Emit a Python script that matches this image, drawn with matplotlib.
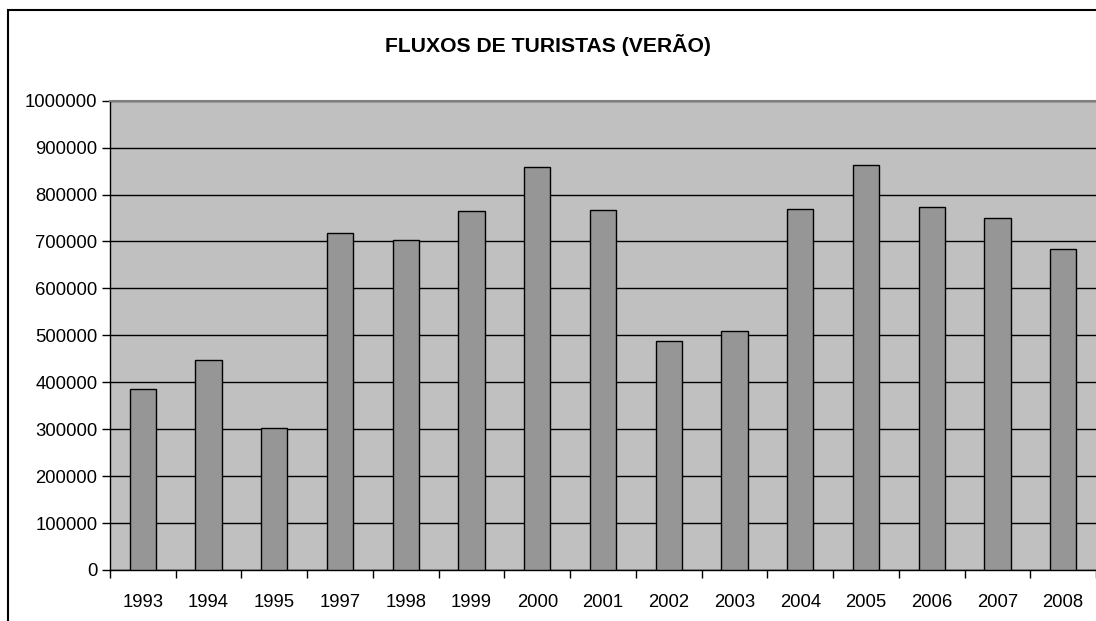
import matplotlib.pyplot as plt
import numpy as np
from matplotlib.patches import Rectangle

# Dados
anos = ['1993', '1994', '1995', '1997', '1998', '1999', '2000', '2001',
        '2002', '2003', '2004', '2005', '2006', '2007', '2008']
turistas = [385000, 448000, 303000, 718000, 704000, 765000, 858000, 767000,
            489000, 510000, 770000, 862000, 773000, 749000, 685000]
y_ticks = [0, 100000, 200000, 300000, 400000, 500000, 600000, 700000,
           800000, 900000, 1000000]

plt.rcParams['font.family'] = ['Liberation Sans', 'DejaVu Sans']

fig = plt.figure(figsize=(10.96, 6.21), dpi=100)
ax = fig.add_axes([110 / 1096, 1 - 570 / 621, 1 - 110 / 1096, (570 - 100.7) / 621])

# Moldura externa do gráfico
fig.patches.append(Rectangle((8 / 1096, -0.1), 1.2, 1 - 10 / 621 + 0.1,
                             transform=fig.transFigure, fill=False,
                             edgecolor='black', linewidth=1.5))

x = np.arange(len(anos))
ax.set_facecolor('#C0C0C0')
ax.bar(x, turistas, width=0.4, color='#969696', edgecolor='black',
       linewidth=1, zorder=3)

ax.set_xlim(-0.5, len(anos) - 0.5)
ax.set_ylim(0, 1000000)
ax.set_yticks(y_ticks)
ax.set_yticklabels([str(v) for v in y_ticks], fontsize=13.3)
ax.yaxis.grid(True, color='black', linewidth=1, zorder=1)
ax.set_axisbelow(True)

# Marcas do eixo x entre as categorias, rótulos no centro
ax.set_xticks(np.arange(len(anos) + 1) - 0.5)
ax.set_xticklabels([])
ax.set_xticks(x, minor=True)
ax.set_xticklabels(anos, minor=True, fontsize=13.3)
ax.tick_params(axis='x', which='minor', length=0, pad=17)
ax.tick_params(axis='x', which='major', length=6, width=1, direction='out')
ax.tick_params(axis='y', length=6, width=1, direction='out', pad=3)

ax.spines['top'].set_color('#808080')
ax.spines['top'].set_linewidth(1.5)
ax.spines['right'].set_visible(False)
ax.spines['left'].set_linewidth(1)
ax.spines['bottom'].set_linewidth(1)

fig.text(0.5, 1 - 45 / 621, 'FLUXOS DE TURISTAS (VERÃO)', ha='center',
         va='center', fontsize=15.2, fontweight='bold')

fig.savefig('out.png', dpi=100)
